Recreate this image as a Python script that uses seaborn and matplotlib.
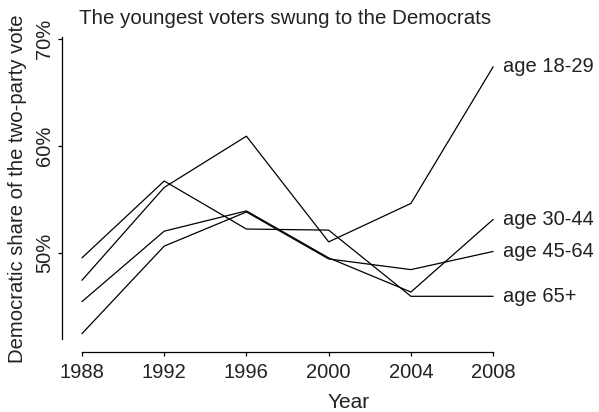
import numpy as np
import pandas as pd
import matplotlib.pyplot as plt
import seaborn as sns

# Democratic share of the two-party vote, by age group
years = [1988, 1992, 1996, 2000, 2004, 2008]
age_18_29 = [47.4, 56.1, 60.9, 51.0, 54.6, 67.4]
age_30_44 = [45.4, 52.0, 53.9, 49.5, 46.3, 53.1]
age_45_64 = [42.4, 50.6, 53.8, 49.4, 48.4, 50.1]
age_65_up = [49.5, 56.7, 52.2, 52.1, 45.9, 45.9]
groups = ["age 18-29", "age 30-44", "age 45-64", "age 65+"]

df = pd.DataFrame({
    "Year": years * 4,
    "share": age_18_29 + age_30_44 + age_45_64 + age_65_up,
    "group": np.repeat(groups, len(years)),
})

sns.set_style("white")
plt.rcParams["font.family"] = ["Liberation Sans", "DejaVu Sans"]

W, H = 599, 412
fig = plt.figure(figsize=(W / 100, H / 100), dpi=100)
ax = fig.add_axes([62 / W, (H - 339) / H, (509.6 - 62) / W, (339 - 36.9) / H])

sns.lineplot(data=df, x="Year", y="share", hue="group",
             palette=["black"] * 4, legend=False, lw=0.9, ax=ax)

ax.set_xlim(1987.03, 2008.8)
ax.set_ylim(41.9, 70.2)

ax.set_xticks(years)
ax.set_xticklabels([str(y) for y in years])
ax.set_yticks([50, 60, 70])
ax.set_yticklabels(["50%", "60%", "70%"], rotation=90, va="center")

for s in ["top", "right"]:
    ax.spines[s].set_visible(False)
ax.spines["bottom"].set_position(("outward", 9.4))
ax.spines["bottom"].set_bounds(1988, 2008)
for s in ["left", "bottom"]:
    ax.spines[s].set_color("black")
    ax.spines[s].set_linewidth(0.9)

ax.tick_params(axis="both", direction="out", length=3, width=0.9,
               bottom=True, left=True,
               color="black", labelsize=14.5, labelcolor="#222222")
ax.tick_params(axis="x", pad=5)
ax.tick_params(axis="y", pad=2.5)
ax.set_xlabel("")
ax.set_ylabel("")

last = [age_18_29[-1], age_30_44[-1], age_45_64[-1], age_65_up[-1]]
for g, v in zip(groups, last):
    ax.annotate(g, xy=(years[-1], v), xytext=(7, 0), textcoords="offset points",
                va="center", ha="left", fontsize=14.5, color="#222222",
                annotation_clip=False)

fig.text(285.5 / W, 1 - 18 / H, "The youngest voters swung to the Democrats",
         ha="center", va="center", fontsize=14.8, color="#222222")
fig.text(349 / W, 1 - 403 / H, "Year", ha="center", va="center",
         fontsize=15, color="#222222")
fig.text(17.5 / W, 1 - 188.5 / H, "Democratic share of the two-party vote",
         ha="center", va="center", rotation=90, fontsize=14.6, color="#222222")

fig.savefig("out.png", dpi=100)
